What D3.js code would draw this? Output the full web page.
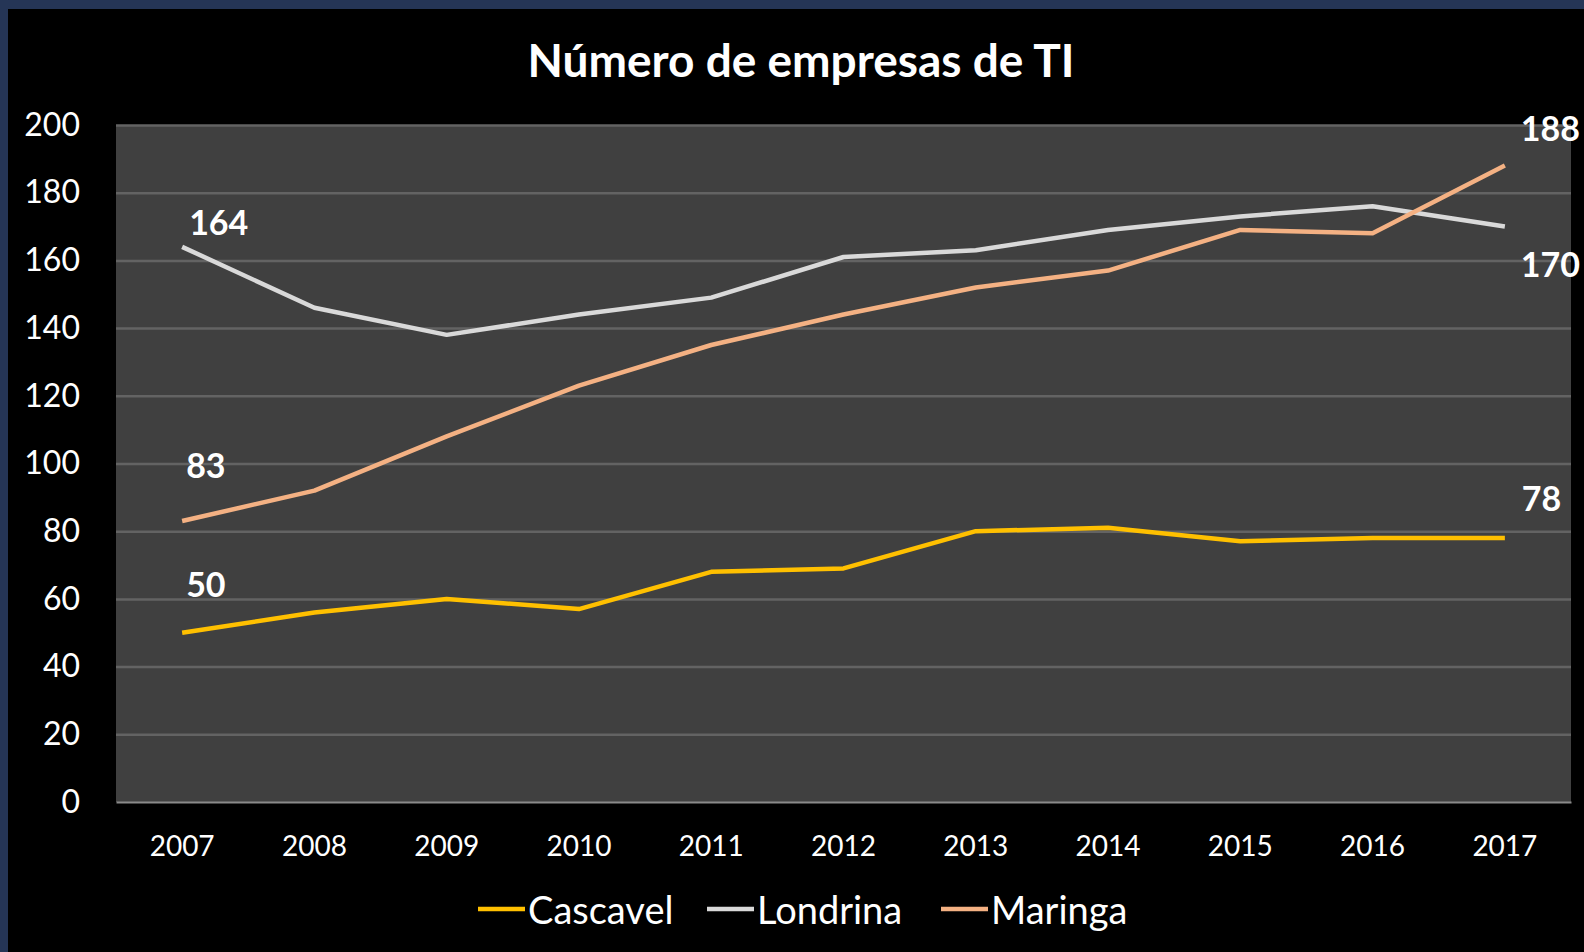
<!DOCTYPE html>
<html>
<head>
<meta charset="utf-8">
<script src="https://cdn.jsdelivr.net/npm/d3@7"></script>
<style>
  body { margin: 0; background: #000; }
  svg { display: block; }
</style>
</head>
<body>
<script>
// data
const years = ["2007", "2008", "2009", "2010", "2011", "2012", "2013", "2014", "2015", "2016", "2017"];
const cascavel = [50, 56, 60, 57, 68, 69, 80, 81, 77, 78, 78];
const londrina = [164, 146, 138, 144, 149, 161, 163, 169, 173, 176, 170];
const maringa = [83, 92, 108, 123, 135, 144, 152, 157, 169, 168, 188];
const seriesNames = ["Cascavel", "Londrina", "Maringa"];
const yTicks = [0, 20, 40, 60, 80, 100, 120, 140, 160, 180, 200];

const width = 1584;
const height = 952;
const font = "Lato, 'Open Sans', sans-serif";

const svg = d3.select("body").append("svg")
    .attr("width", width)
    .attr("height", height);

// navy frame
svg.append("rect").attr("width", width).attr("height", height).attr("fill", "#253556");
svg.append("rect").attr("x", 8).attr("y", 9).attr("width", width).attr("height", height).attr("fill", "#000");

const plot = { left: 116, right: 1571, top: 125, bottom: 802 };

const x = d3.scaleBand().domain(years).range([plot.left, plot.right]);
const cx = d => x(d) + x.bandwidth() / 2;
const y = d3.scaleLinear().domain([0, 200]).range([plot.bottom, plot.top]);

svg.append("rect")
    .attr("x", plot.left).attr("y", plot.top)
    .attr("width", plot.right - plot.left).attr("height", plot.bottom - plot.top)
    .attr("fill", "#404040");

// gridlines
svg.append("g")
    .attr("transform", `translate(${plot.left},0)`)
    .call(d3.axisLeft(y).tickValues(yTicks.filter(t => t > 0)).tickSize(-(plot.right - plot.left)).tickFormat(""))
    .call(g => g.select(".domain").remove())
    .call(g => g.selectAll("line").attr("stroke", "#636363").attr("stroke-width", 2.5));

// y axis labels
svg.append("g")
    .attr("transform", `translate(${plot.left},0)`)
    .call(d3.axisLeft(y).tickValues(yTicks).tickSize(0).tickPadding(36))
    .call(g => g.select(".domain").remove())
    .call(g => g.selectAll("text").attr("fill", "#fff").attr("font-size", 32).attr("font-family", font));

// x axis
svg.append("g")
    .attr("transform", `translate(0,${plot.bottom})`)
    .call(d3.axisBottom(x).tickSize(0).tickPadding(34))
    .call(g => g.select(".domain").attr("stroke", "#8a8a8a").attr("stroke-width", 2))
    .call(g => g.selectAll("text").attr("fill", "#fff").attr("font-size", 28).attr("font-family", font));

// title
svg.append("text")
    .attr("x", 801).attr("y", 77)
    .attr("text-anchor", "middle")
    .attr("fill", "#fff")
    .attr("font-family", font)
    .attr("font-weight", "bold")
    .attr("font-size", 46)
    .text("Número de empresas de TI");

const series = [
    { name: seriesNames[0], values: cascavel, color: "#ffc000" },
    { name: seriesNames[1], values: londrina, color: "#d9d9d9" },
    { name: seriesNames[2], values: maringa, color: "#f4b183" }
];

const line = d3.line().x((d, i) => cx(years[i])).y(d => y(d));

svg.append("g").selectAll("path")
    .data(series)
    .join("path")
    .attr("d", s => line(s.values))
    .attr("fill", "none")
    .attr("stroke", s => s.color)
    .attr("stroke-width", 4.5)
    .attr("stroke-linejoin", "round");

// data labels: first and last point of each series, offset from the point
const labelOffsets = [
    { s: 0, i: 0, dx: 4, dy: -36 },
    { s: 1, i: 0, dx: 7, dy: -12 },
    { s: 2, i: 0, dx: 4, dy: -43 },
    { s: 0, i: 10, dx: 17, dy: -27 },
    { s: 1, i: 10, dx: 16, dy: 50 },
    { s: 2, i: 10, dx: 16, dy: -25 }
];

svg.append("g").selectAll("text")
    .data(labelOffsets)
    .join("text")
    .attr("x", d => cx(years[d.i]) + d.dx)
    .attr("y", d => y(series[d.s].values[d.i]) + d.dy)
    .attr("fill", "#fff")
    .attr("font-family", font)
    .attr("font-weight", "bold")
    .attr("font-size", 34)
    .text(d => series[d.s].values[d.i]);

// legend
const legendX = [478, 707, 941];
const legend = svg.append("g").selectAll("g")
    .data(series)
    .join("g")
    .attr("transform", (d, i) => `translate(${legendX[i]},909)`);

legend.append("line")
    .attr("x1", 0).attr("x2", 47)
    .attr("stroke", d => d.color)
    .attr("stroke-width", 4.5);

legend.append("text")
    .attr("x", 50).attr("y", 15)
    .attr("fill", "#fff")
    .attr("font-family", font)
    .attr("font-size", 38)
    .text(d => d.name);
</script>
</body>
</html>
